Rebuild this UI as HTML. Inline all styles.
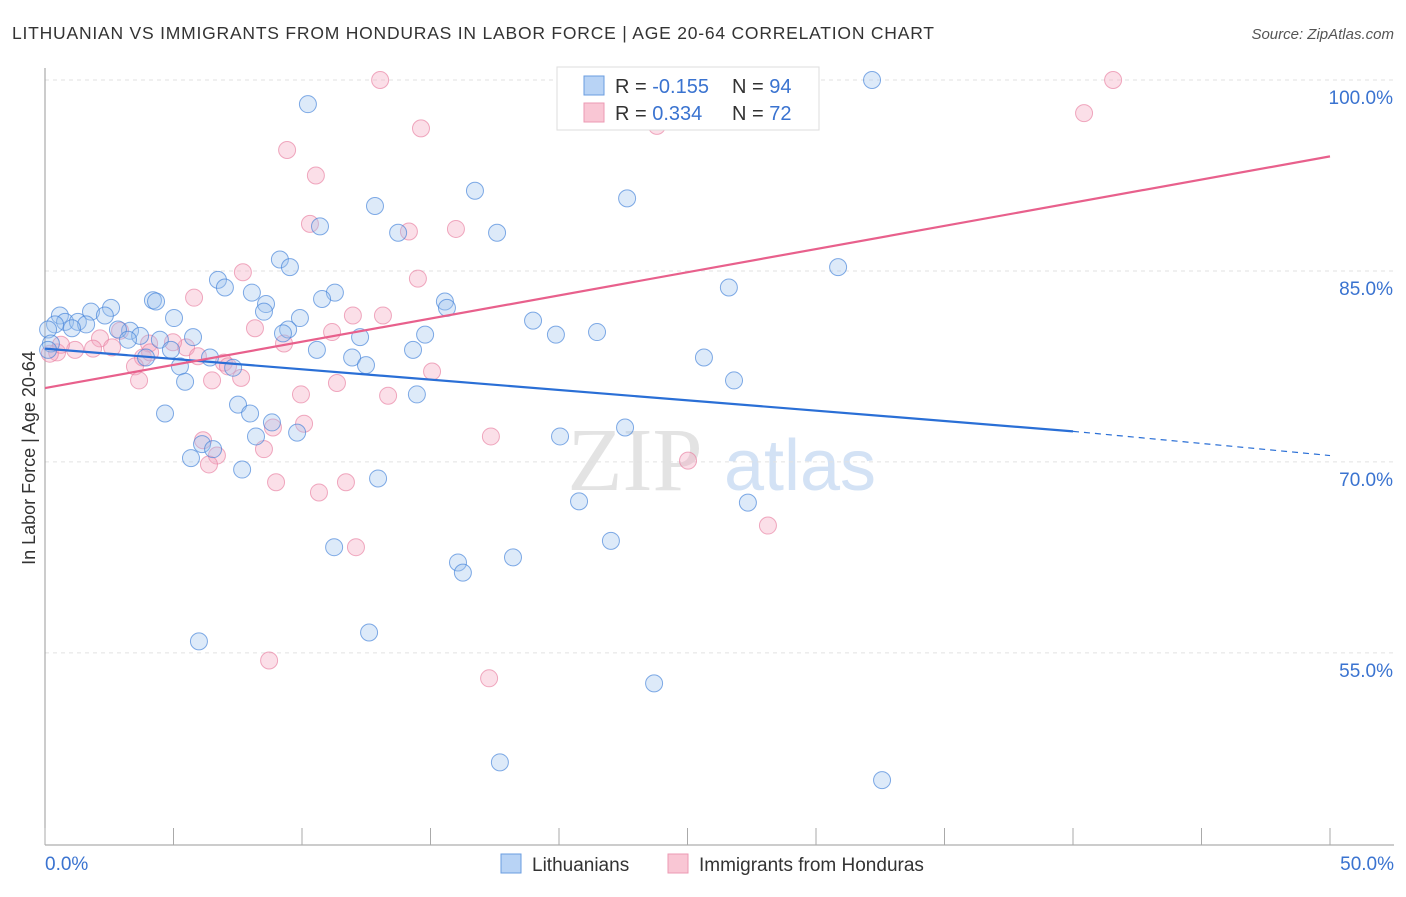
<!DOCTYPE html>
<html><head><meta charset="utf-8"><style>
body{margin:0;background:#fff;font-family:"Liberation Sans",sans-serif}
</style></head><body>
<svg id="chart" width="1406" height="892" xmlns="http://www.w3.org/2000/svg">
<text x="12" y="39" font-size="17.5" fill="#333" textLength="922">LITHUANIAN VS IMMIGRANTS FROM HONDURAS IN LABOR FORCE | AGE 20-64 CORRELATION CHART</text>
<text x="1394" y="39" font-size="15" fill="#555" font-style="italic" text-anchor="end">Source: ZipAtlas.com</text>
<text x="35" y="458" font-size="18" fill="#333" text-anchor="middle" transform="rotate(-90 35 458)">In Labor Force | Age 20-64</text>
<g>
<text x="635" y="490" font-size="90" fill="#e3e3e3" font-family="Liberation Serif,serif" text-anchor="middle">ZIP</text>
<text x="800" y="490" font-size="72" fill="#d3e2f5" text-anchor="middle">atlas</text>
</g>
<g id="grid"></g><g id="axes"></g><g id="marks"></g>
<g>
<rect x="557" y="67" width="262" height="63" fill="#fff" stroke="#ddd"/>
<rect x="584" y="76" width="20" height="19" fill="#b8d3f5" stroke="#6a9de0"/>
<rect x="584" y="103" width="20" height="19" fill="#f9c6d4" stroke="#ec9ab3"/>
<text x="615" y="93" font-size="20" fill="#333">R = <tspan fill="#3a73d0">-0.155</tspan></text>
<text x="732" y="93" font-size="20" fill="#333">N = <tspan fill="#3a73d0">94</tspan></text>
<text x="615" y="120" font-size="20" fill="#333">R =  <tspan fill="#3a73d0">0.334</tspan></text>
<text x="732" y="120" font-size="20" fill="#333">N = <tspan fill="#3a73d0">72</tspan></text>
</g>
<g>
<rect x="501" y="854" width="20" height="19" fill="#b8d3f5" stroke="#6a9de0"/>
<text x="532" y="871" font-size="19" fill="#333">Lithuanians</text>
<rect x="668" y="854" width="20" height="19" fill="#f9c6d4" stroke="#ec9ab3"/>
<text x="699" y="871" font-size="19" fill="#333">Immigrants from Honduras</text>
</g>
</svg>
<script>
const yTicks=[100,85,70,55];
const yTickLabels=["100.0%","85.0%","70.0%","55.0%"];
const xTickLabels=["0.0%","50.0%"];
const blueX=[10.23,32.18,22.65,16.73,12.84,10.7,17.59,13.74,9.14,9.53,30.86,6.73,7.0,4.2,4.32,8.05,11.28,10.78,8.6,8.52,15.56,15.64,26.61,18.99,9.92,5.02,2.57,1.79,2.33,0.58,0.78,1.28,1.6,0.39,1.05,0.12,21.48,19.88,14.79,12.26,9.46,9.26,5.76,4.47,3.31,2.84,3.7,3.23,0.23,0.12,14.32,10.58,4.9,11.95,12.49,3.93,5.25,6.42,7.32,5.45,25.64,26.81,14.47,7.51,7.98,4.67,22.57,8.83,8.21,9.81,20.04,6.11,6.54,5.68,7.67,12.96,20.78,27.35,11.25,22.02,16.07,16.26,18.21,12.61,5.99,23.7,17.7,32.57];
const blueY=[98.1,100,90.7,91.3,90.1,88.5,88.0,88.0,85.9,85.3,85.3,84.3,83.7,82.7,82.6,83.3,83.3,82.8,82.4,81.8,82.6,82.1,83.7,81.1,81.3,81.3,82.1,81.8,81.5,81.5,81.0,81.0,80.8,80.8,80.5,80.4,80.2,80.0,80.0,79.8,80.4,80.1,79.8,79.6,80.3,80.4,79.9,79.6,79.3,78.8,78.8,78.8,78.8,78.2,77.6,78.2,77.5,78.2,77.4,76.3,78.2,76.4,75.3,74.5,73.8,73.8,72.7,73.1,72.0,72.3,72.0,71.4,71.0,70.3,69.4,68.7,66.9,66.8,63.3,63.8,62.1,61.3,62.5,56.6,55.9,52.6,46.4,45.0];
const pinkX=[13.04,24.51,41.56,40.43,14.63,23.81,9.42,10.54,10.31,14.16,15.99,7.7,14.51,5.8,11.98,13.15,8.17,11.17,2.92,2.14,9.3,5.49,4.98,4.05,1.87,1.17,0.47,0.19,2.61,3.81,4.09,6.96,7.12,5.95,3.5,3.66,6.5,7.63,11.36,15.06,9.96,13.35,10.08,8.87,17.35,6.15,8.52,6.69,6.38,25.02,8.99,11.71,10.66,28.13,12.1,8.72,17.28,0.62];
const pinkY=[100,100,100,97.4,96.2,96.4,94.5,92.5,88.7,88.1,88.3,84.9,84.4,82.9,81.5,81.5,80.5,80.2,80.3,79.7,79.3,79.0,79.4,79.3,78.9,78.8,78.6,78.5,79.0,78.2,78.6,77.8,77.5,78.3,77.5,76.4,76.4,76.6,76.2,77.1,75.3,75.2,73.0,72.7,72.0,71.7,71.0,70.5,69.8,70.1,68.4,68.4,67.6,65.0,63.3,54.4,53.0,79.2];
const blueTrend=[[0,78.9],[40,72.4],[50,70.5]];
const pinkTrend=[[0,75.8],[50,94.0]];
const NS="http://www.w3.org/2000/svg";
const X=v=>45+v*25.7, Y=v=>80+(100-v)*12.73;
function mk(t,a,p){const e=document.createElementNS(NS,t);for(const k in a)e.setAttribute(k,a[k]);p.appendChild(e);return e;}
const grid=document.getElementById('grid'),axes=document.getElementById('axes'),marks=document.getElementById('marks');
yTicks.forEach((v,i)=>{
 const l=mk('line',{x1:45,x2:1394,y1:Y(v),y2:Y(v),stroke:'#e2e2e2','stroke-dasharray':'4,4'},grid);
 
 
 const t=mk('text',{x:1393,y:Y(v)+24,'font-size':19,fill:'#3a73d0','text-anchor':'end'},axes);
 t.textContent=yTickLabels[i];
 
 
});
const ax=mk('line',{x1:45,x2:45,y1:68,y2:845,stroke:'#999'},axes);


const bx=mk('line',{x1:45,x2:1394,y1:845,y2:845,stroke:'#999'},axes);


for(let i=0;i<=10;i++){const tk=mk('line',{x1:X(i*5),x2:X(i*5),y1:828,y2:845,stroke:'#aaa'},axes);
 
 }
[[0,'start',45],[50,'end',1394]].forEach((d,i)=>{const t=mk('text',{x:d[2],y:870,'font-size':19,fill:'#3a73d0','text-anchor':d[1]},axes);t.textContent=xTickLabels[i];
 
 });
function dots(xs,ys,fill,stroke,name){xs.forEach((x,i)=>{const c=mk('circle',{cx:X(x),cy:Y(ys[i]),r:8.5,fill:fill,'fill-opacity':0.35,stroke:stroke,'stroke-opacity':0.65,'stroke-width':1},marks);
 
 });}
dots(pinkX,pinkY,'#f4a3bd','#e87ea0','point-honduras');
dots(blueX,blueY,'#9ec2ef','#3f7fd8','point-lithuanian');
const bl=mk('line',{x1:X(blueTrend[0][0]),y1:Y(blueTrend[0][1]),x2:X(blueTrend[1][0]),y2:Y(blueTrend[1][1]),stroke:'#2a6fd6','stroke-width':2.2},marks);


const bd=mk('line',{x1:X(blueTrend[1][0]),y1:Y(blueTrend[1][1]),x2:X(blueTrend[2][0]),y2:Y(blueTrend[2][1]),stroke:'#2a6fd6','stroke-width':1.2,'stroke-dasharray':'6,5'},marks);


const pl=mk('line',{x1:X(pinkTrend[0][0]),y1:Y(pinkTrend[0][1]),x2:X(pinkTrend[1][0]),y2:Y(pinkTrend[1][1]),stroke:'#e8608c','stroke-width':2.2},marks);


</script>
</body></html>
